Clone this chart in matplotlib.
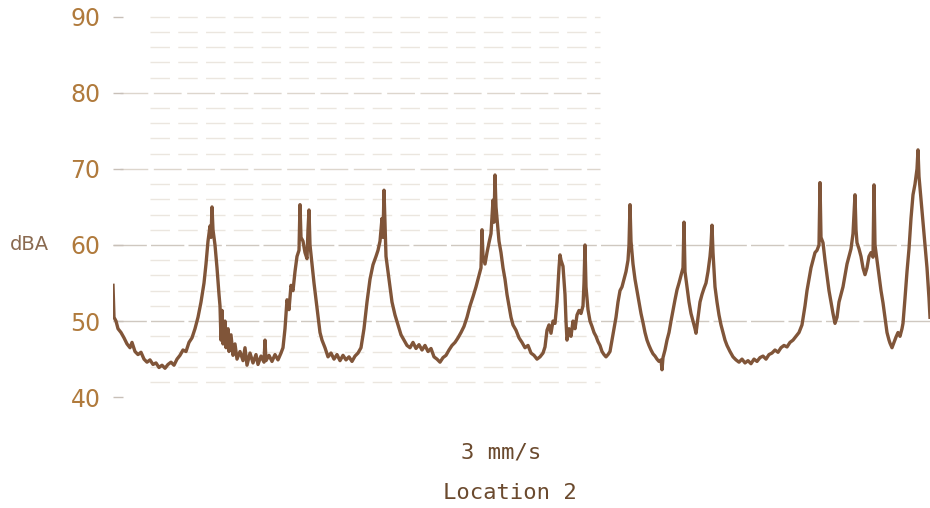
import numpy as np
import matplotlib
matplotlib.use('Agg')
import matplotlib.pyplot as plt

plt.rcParams['font.family'] = 'DejaVu Sans Mono'

# chart-paper position (along the strip) and sound level
t = [113, 114, 116, 118, 121, 124, 127, 130, 132, 135, 138, 141, 144, 147, 150, 153, 156, 159, 162, 165,
     168, 171, 174, 177, 180, 183, 186, 189, 192, 195, 198, 201, 204, 206, 208, 210, 211, 212, 213, 215,
     217, 219, 220, 221, 222, 223, 225, 226, 228, 229, 231, 233, 235, 237, 240, 243, 245, 247, 250, 253,
     256, 258, 261, 264, 265, 266, 269, 272, 275, 278, 281, 283, 285, 287, 289, 291, 293, 295, 297, 299,
     300, 301, 303, 305, 307, 308, 309, 310, 312, 314, 316, 318, 320, 322, 325, 328, 331, 334, 337, 340,
     343, 346, 349, 352, 355, 358, 361, 364, 367, 370, 373, 376, 378, 380, 382, 383, 384, 385, 386, 388,
     390, 392, 395, 398, 401, 404, 407, 410, 413, 416, 419, 422, 425, 428, 431, 434, 437, 440, 443, 446,
     449, 452, 455, 458, 461, 464, 467, 470, 473, 476, 479, 481, 482, 483, 485, 487, 489, 491, 493, 494,
     495, 496, 497, 499, 501, 503, 505, 507, 509, 511, 513, 516, 519, 522, 525, 528, 531, 534, 537, 540,
     543, 545, 547, 549, 551, 553, 555, 557, 559, 560, 561, 563, 565, 566, 567, 569, 571, 573, 575, 577,
     579, 581, 583, 584, 585, 586, 588, 590, 592, 594, 596, 598, 600, 602, 604, 606, 608, 610, 612, 614,
     616, 618, 620, 622, 624, 626, 628, 629, 630, 631, 633, 635, 637, 639, 641, 643, 645, 647, 649, 651,
     653, 655, 657, 659, 661, 662, 663, 665, 667, 669, 671, 673, 675, 677, 679, 681, 683, 684, 685, 687,
     689, 691, 693, 695, 696, 698, 700, 702, 704, 706, 708, 710, 711, 712, 713, 715, 717, 719, 721, 723,
     725, 727, 730, 733, 736, 739, 742, 745, 748, 751, 754, 757, 760, 763, 766, 769, 772, 775, 778, 781,
     784, 787, 790, 793, 796, 799, 802, 805, 807, 809, 811, 813, 815, 817, 819, 820, 821, 823, 825, 827,
     829, 831, 833, 835, 837, 839, 841, 843, 845, 847, 849, 851, 853, 855, 856, 857, 859, 861, 863, 865,
     867, 869, 871, 873, 874, 875, 877, 879, 881, 883, 885, 887, 889, 890, 892, 894, 896, 898, 900, 902,
     903, 905, 907, 909, 911, 913, 915, 917, 918, 919, 921, 923, 925, 927, 929, 930]
dba = [54.7, 50.5, 50.0, 49.0, 48.5, 47.8, 47.0, 46.5, 47.2, 46.0, 45.6, 45.9, 45.0, 44.6, 44.9, 44.3, 44.5, 43.9, 44.2, 43.8,
       44.3, 44.6, 44.2, 45.0, 45.5, 46.2, 46.0, 47.2, 47.8, 49.0, 50.5, 52.5, 55.0, 57.5, 60.5, 62.5, 61.0, 65.0, 62.0, 60.0,
       57.0, 53.5, 52.0, 47.5, 51.4, 47.0, 50.0, 46.5, 49.0, 46.0, 48.2, 45.5, 47.0, 45.0, 46.0, 44.8, 46.5, 44.2, 45.8, 44.5,
       45.6, 44.3, 45.4, 44.6, 47.5, 44.8, 45.5, 44.7, 45.6, 44.9, 45.8, 46.5, 49.0, 52.8, 51.5, 54.7, 54.0, 56.5, 58.5, 59.3,
       65.3, 61.0, 60.5, 59.0, 58.2, 62.0, 64.6, 60.0, 57.5, 55.0, 52.8, 50.5, 48.5, 47.5, 46.5, 45.3, 45.8, 45.0, 45.6, 44.8,
       45.5, 44.9, 45.3, 44.7, 45.4, 45.8, 46.5, 49.0, 52.5, 55.5, 57.4, 58.5, 59.3, 60.5, 63.5, 61.0, 67.2, 63.0, 58.5, 56.5,
       54.5, 52.5, 50.8, 49.5, 48.2, 47.5, 46.8, 46.5, 47.2, 46.4, 46.9, 46.2, 46.8, 46.0, 46.4, 45.3, 45.0, 44.6, 45.2, 45.5,
       46.2, 46.8, 47.2, 47.8, 48.5, 49.3, 50.5, 52.0, 53.2, 54.5, 56.0, 57.0, 62.0, 58.5, 57.5, 59.0, 60.3, 61.5, 65.9, 63.0,
       69.2, 65.0, 63.5, 60.5, 59.0, 57.0, 55.5, 53.5, 52.0, 50.5, 49.5, 48.8, 47.8, 47.2, 46.5, 46.8, 45.8, 45.5, 45.0, 45.3,
       45.8, 46.6, 48.8, 49.5, 48.4, 50.0, 49.7, 52.5, 57.0, 58.7, 58.0, 57.2, 53.5, 50.0, 47.5, 49.0, 48.0, 50.0, 49.0, 50.8,
       51.4, 51.0, 52.0, 55.0, 60.0, 54.5, 51.5, 50.0, 49.3, 48.5, 48.0, 47.3, 46.8, 46.0, 45.6, 45.3, 45.6, 46.0, 47.5, 49.0,
       50.5, 52.5, 54.0, 54.5, 55.5, 56.5, 58.0, 60.0, 65.3, 60.5, 57.5, 55.5, 54.0, 52.5, 51.0, 49.8, 48.5, 47.5, 46.8, 46.2,
       45.7, 45.4, 45.0, 44.7, 44.9, 43.6, 45.2, 46.2, 47.5, 48.5, 50.0, 51.4, 52.8, 54.1, 55.0, 56.0, 57.0, 63.0, 56.5, 54.5,
       52.5, 51.0, 50.0, 49.0, 48.4, 50.5, 52.5, 53.5, 54.3, 55.0, 56.5, 58.5, 60.0, 62.6, 59.0, 54.5, 52.5, 50.8, 49.5, 48.5,
       47.5, 46.8, 46.0, 45.3, 44.9, 44.6, 45.0, 44.5, 44.8, 44.4, 45.0, 44.7, 45.2, 45.4, 45.0, 45.6, 45.8, 46.2, 45.9, 46.5,
       46.8, 46.6, 47.2, 47.5, 48.0, 48.5, 49.5, 52.0, 54.0, 55.5, 57.0, 58.0, 59.0, 59.3, 60.0, 68.2, 61.0, 60.3, 58.0, 56.0,
       54.0, 52.5, 51.0, 49.7, 50.5, 52.5, 53.5, 54.5, 56.0, 57.5, 58.5, 59.5, 61.5, 66.6, 62.0, 60.3, 59.5, 58.5, 57.0, 56.1,
       57.0, 58.5, 59.0, 58.4, 67.9, 60.0, 58.0, 56.0, 54.0, 52.4, 50.5, 48.5, 47.5, 47.1, 46.5, 47.2, 47.9, 48.5, 48.0, 49.0,
       49.7, 53.0, 56.5, 59.5, 63.5, 66.6, 68.0, 70.0, 72.5, 69.0, 66.0, 63.0, 60.0, 57.0, 53.0, 50.5]

yticks = [40, 50, 60, 70, 80, 90]
paper_lines = [42, 44, 46, 48, 52, 54, 56, 58, 62, 64, 66, 68, 72, 74, 76, 78, 82, 84, 86, 88, 90]

fig = plt.figure(figsize=(9.30, 5.08), dpi=100)
ax = fig.add_axes([113 / 930, 88 / 508, 817 / 930, 420 / 508])
ax.set_xlim(113, 930)
ax.set_ylim(37.0, 92.2)

# faint, broken lines of the chart paper
for lv in paper_lines:
    ax.plot([150, 600], [lv, lv], color='#ebe6df', lw=1, ls=(0, (14, 6)), zorder=1)
for lv in [70, 80]:
    ax.plot([120, 600], [lv, lv], color='#ddd6cd', lw=1, ls=(0, (20, 4)), zorder=1)
for lv in [50, 60]:
    ax.axhline(lv, color='#cfc8c0', lw=1, ls=(0, (24, 3)), zorder=1)

ax.plot(t, dba, color='#805539', lw=2.4, zorder=3)

ax.set_yticks(yticks)
ax.set_yticklabels([str(v) for v in yticks], color='#b07a3c', fontsize=17,
                   family='DejaVu Sans')
ax.tick_params(axis='y', direction='in', length=7, width=1, color='#c8c0b8', pad=9)
ax.set_xticks([])
for s in ax.spines.values():
    s.set_visible(False)

fig.text(10 / 930, 1 - 245 / 508, 'dBA', fontsize=14, color='#8a6a50',
         family='DejaVu Sans', va='center', ha='left')
fig.text(501 / 930, 1 - 452 / 508, '3 mm/s', fontsize=16, color='#6b4a2e',
         va='center', ha='center')
fig.text(510 / 930, 1 - 493 / 508, 'Location 2', fontsize=16, color='#6b4a2e',
         va='center', ha='center')

fig.savefig('out.png', dpi=100)
